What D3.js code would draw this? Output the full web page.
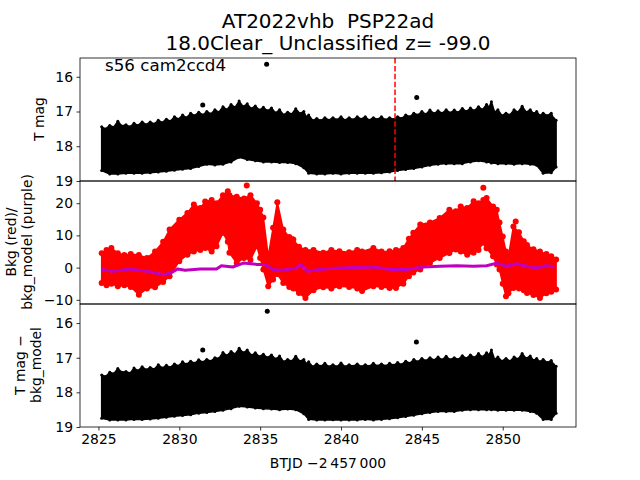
<!DOCTYPE html>
<html><head><meta charset="utf-8">
<script src="https://cdn.jsdelivr.net/npm/d3@7"></script>
<style>body{margin:0;background:#fff}svg{display:block;font-family:"DejaVu Sans",sans-serif}text{white-space:pre}</style>
</head><body><svg id="c" width="640" height="480"></svg>
<script>
// ---- data ----
// upper edge of the black T mag band (peaks and the dips between them)
const edgeTimes = [2825.2,2825.45,2825.7,2825.95,2826.2,2826.45,2826.7,2826.95,2827.2,2827.45,2827.7,2827.95,2828.2,2828.45,2828.7,2828.95,2829.2,2829.45,2829.7,2829.95,2830.2,2830.45,2830.7,2830.95,2831.2,2831.45,2831.7,2831.95,2832.2,2832.45,2832.7,2832.95,2833.2,2833.45,2833.7,2833.95,2834.2,2834.45,2834.7,2834.95,2835.2,2835.45,2835.7,2835.95,2836.2,2836.45,2836.7,2836.95,2837.2,2837.45,2837.7,2837.85,2838.0,2838.25,2838.5,2838.75,2839.0,2839.25,2839.5,2839.75,2840.0,2840.25,2840.5,2840.75,2841.0,2841.25,2841.5,2841.75,2842.0,2842.25,2842.5,2842.75,2843.0,2843.25,2843.5,2843.75,2844.0,2844.25,2844.5,2844.75,2845.0,2845.25,2845.5,2845.75,2846.0,2846.25,2846.5,2846.75,2847.0,2847.25,2847.5,2847.75,2848.0,2848.25,2848.5,2848.75,2849.0,2849.15,2849.3,2849.5,2849.7,2849.95,2850.2,2850.45,2850.7,2850.95,2851.2,2851.45,2851.7,2851.9,2852.1,2852.3,2852.5,2852.75,2853.0,2853.15,2853.3];
const tmagTop = [17.44,17.50,17.40,17.45,17.28,17.42,17.38,17.44,17.34,17.40,17.30,17.38,17.30,17.36,17.25,17.32,17.22,17.28,17.15,17.22,17.10,17.18,17.05,17.12,17.02,17.10,17.00,17.07,16.95,17.02,16.86,16.95,16.80,16.88,16.70,16.86,16.78,16.92,16.84,16.96,16.88,16.98,16.90,17.04,16.95,17.10,17.02,17.08,16.92,17.06,17.00,17.16,17.10,17.26,17.20,17.26,17.18,17.25,17.18,17.24,17.15,17.25,17.18,17.24,17.15,17.22,17.15,17.25,17.18,17.23,17.15,17.24,17.18,17.23,17.15,17.20,17.10,17.15,17.05,17.10,17.00,17.08,16.96,17.06,16.98,17.05,16.95,17.04,16.96,17.03,16.91,17.00,16.90,16.98,16.86,16.95,16.80,16.88,16.72,17.02,16.95,17.12,17.05,17.10,16.95,17.02,16.85,17.02,16.95,17.06,17.00,17.12,17.05,17.12,17.05,17.20,17.25];
const diffTop = [17.50,17.54,17.42,17.46,17.31,17.42,17.40,17.45,17.30,17.38,17.26,17.35,17.28,17.33,17.20,17.30,17.22,17.28,17.18,17.24,17.12,17.19,17.10,17.16,17.06,17.13,17.05,17.10,17.00,17.02,16.85,16.94,16.82,16.90,16.73,16.86,16.78,16.93,16.86,16.97,16.90,17.00,16.92,17.04,16.95,17.12,17.05,17.10,16.96,17.10,17.05,17.18,17.12,17.26,17.18,17.25,17.16,17.26,17.20,17.26,17.15,17.26,17.20,17.25,17.18,17.26,17.20,17.25,17.16,17.24,17.18,17.24,17.16,17.22,17.14,17.20,17.10,17.16,17.05,17.12,17.02,17.09,17.00,17.07,16.98,17.06,16.96,17.06,17.00,17.05,16.94,17.02,16.92,17.00,16.88,16.98,16.86,16.92,16.78,17.05,16.98,17.10,17.02,17.10,16.98,17.04,16.88,17.02,16.95,17.08,17.02,17.12,17.05,17.14,17.08,17.20,17.25];
// lower edge of the black bands
const lowTimes = [2825.2,2825.7,2826.2,2826.7,2827.2,2827.7,2828.2,2828.7,2829.2,2829.7,2830.2,2830.7,2831.2,2831.7,2832.2,2832.7,2833.2,2833.7,2834.2,2834.7,2835.2,2835.7,2836.2,2836.7,2837.2,2837.7,2838.0,2838.5,2839.0,2839.5,2840.0,2840.5,2841.0,2841.5,2842.0,2842.5,2843.0,2843.5,2844.0,2844.5,2845.0,2845.5,2846.0,2846.5,2847.0,2847.5,2848.0,2848.5,2849.0,2849.3,2849.7,2850.2,2850.7,2851.2,2851.7,2852.1,2852.5,2853.0,2853.3];
const tmagBottom = [18.70,18.80,18.80,18.78,18.78,18.78,18.76,18.74,18.72,18.69,18.66,18.64,18.58,18.52,18.54,18.52,18.45,18.32,18.38,18.42,18.45,18.45,18.47,18.47,18.50,18.62,18.78,18.80,18.80,18.78,18.80,18.78,18.78,18.78,18.78,18.76,18.74,18.70,18.67,18.64,18.60,18.55,18.52,18.50,18.50,18.50,18.45,18.42,18.45,18.48,18.50,18.50,18.52,18.50,18.52,18.55,18.78,18.76,18.60];
const diffBottom = [18.75,18.80,18.80,18.80,18.78,18.78,18.77,18.75,18.72,18.69,18.67,18.65,18.60,18.58,18.55,18.52,18.47,18.40,18.42,18.45,18.47,18.48,18.50,18.48,18.50,18.62,18.78,18.80,18.80,18.79,18.80,18.80,18.80,18.78,18.80,18.78,18.76,18.73,18.70,18.66,18.62,18.58,18.55,18.55,18.55,18.52,18.50,18.50,18.50,18.50,18.52,18.52,18.52,18.52,18.55,18.60,18.78,18.78,18.60];
const tmagOutT = [2831.45, 2835.4, 2844.68];
const tmagOutV = [16.81, 15.64, 16.60];
const diffOutT = [2831.45, 2835.44, 2844.66];
const diffOutV = [16.78, 15.66, 16.55];

const bkgTimes = [2825.2,2825.5,2825.8,2826.2,2826.6,2827.0,2827.5,2828.0,2828.5,2829.0,2829.4,2830.0,2830.5,2830.9,2831.3,2831.6,2832.0,2832.3,2832.7,2833.0,2833.1,2833.55,2834.0,2834.4,2834.8,2835.0,2835.2,2835.5,2835.8,2836.06,2836.43,2836.8,2837.05,2837.4,2837.8,2838.3,2838.9,2839.4,2839.9,2840.5,2841.0,2841.3,2842.0,2842.5,2843.0,2843.4,2843.85,2844.2,2844.47,2844.9,2845.5,2846.1,2846.7,2847.1,2847.4,2847.8,2848.2,2848.5,2848.8,2849.0,2849.4,2849.63,2849.8,2850.0,2850.2,2850.35,2850.66,2851.0,2851.3,2851.5,2851.9,2852.3,2852.7,2853.0,2853.3];
const bkgTop = [4.5,5.5,6.1,4.5,3.9,4.2,3.9,3.0,5.0,8.0,11.8,14.9,17.0,19.6,18.5,20.5,21.0,20.0,22.5,23.7,22.5,22.0,21.5,22.5,20.0,18.0,15.6,3.5,12.4,20.3,11.8,9.5,8.7,6.5,5.5,5.5,4.6,5.5,5.1,4.8,5.5,5.0,6.1,5.0,5.1,5.5,6.1,9.0,10.8,13.4,14.0,15.4,18.0,17.5,19.0,18.5,20.6,20.0,21.0,21.6,19.0,18.0,14.0,9.7,5.0,3.5,12.8,11.0,8.2,7.0,5.7,5.0,4.2,3.5,2.5];
const bkgBottom = [-4.8,-5.5,-5.0,-5.8,-5.5,-6.0,-8.4,-6.5,-6.1,-4.5,-2.7,2.0,4.0,5.0,5.5,6.1,5.0,6.6,10.8,8.0,4.6,1.4,3.0,2.4,6.6,3.0,-0.6,-5.8,-3.7,-2.0,-4.8,-6.0,-6.5,-7.9,-9.4,-7.0,-6.1,-6.5,-5.8,-6.0,-6.5,-7.3,-5.8,-6.0,-6.3,-6.3,-5.0,-2.7,-1.5,-0.6,1.4,3.0,4.5,5.6,5.0,4.0,4.6,5.5,7.7,6.0,3.5,1.0,-0.6,-5.0,-8.9,-8.0,-6.3,-6.5,-7.0,-7.9,-8.5,-9.4,-8.0,-7.5,-6.8];
const bkgOutT = [2834.17, 2848.8, 2850.8, 2836.95];
const bkgOutV = [25.5, 24.8, 14.3, 8.9];

const modelTimes = [2825.2,2825.9,2826.95,2828.0,2829.0,2829.5,2829.9,2830.35,2831.3,2832.3,2832.6,2833.3,2833.96,2834.8,2835.3,2835.8,2836.4,2837.26,2837.5,2837.9,2838.9,2839.94,2842.0,2843.03,2844.06,2845.09,2846.12,2847.16,2848.18,2849.0,2849.63,2850.25,2850.87,2851.5,2852.1,2852.7,2853.2];
const modelValues = [-0.6,-1.1,-0.4,-1.1,-2.2,-1.6,-0.4,-0.8,-0.4,-0.4,0.6,0.2,1.4,1.0,1.0,-0.6,-0.8,-0.1,1.0,-1.1,-0.4,-0.1,0.2,-0.6,-0.6,0.2,0.4,0.6,0.4,0.6,1.4,0.4,1.2,0.4,-0.1,0.6,0.2];

const markerTime = 2843.34;
const xTicks = [2825, 2830, 2835, 2840, 2845, 2850];
const magTicks = [16, 17, 18, 19];
const bkgTicks = [-10, 0, 10, 20];
const titleLines = ["AT2022vhb  PSP22ad", "18.0Clear_ Unclassified z= -99.0"];
const sectorLabel = "s56 cam2ccd4";

// ---- drawing ----
const svg = d3.select("#c");
const L = 80, R = 576;
const panels = [{top:58, bottom:181}, {top:181, bottom:304}, {top:304, bottom:427}];
const x = d3.scaleLinear().domain([2823.86, 2854.53]).range([L, R]);
const y1 = d3.scaleLinear().domain([15.46, 19.0]).range([panels[0].top, panels[0].bottom]);
const y2 = d3.scaleLinear().domain([-11.3, 26.9]).range([panels[1].bottom, panels[1].top]);
const y3 = d3.scaleLinear().domain([15.45, 19.0]).range([panels[2].top, panels[2].bottom]);
const FS = "13.9px";

const defs = svg.append("defs");
panels.forEach((p, i) => {
  defs.append("clipPath").attr("id", "clip" + i).append("rect")
    .attr("x", L).attr("y", p.top).attr("width", R - L).attr("height", p.bottom - p.top);
});

function drawBand(panelIdx, tTop, vTop, tBot, vBot, ys, color, r) {
  const g = svg.append("g").attr("clip-path", `url(#clip${panelIdx})`);
  const pts = tTop.map((t, i) => [x(t), ys(vTop[i])])
    .concat(tBot.map((t, i) => [x(t), ys(vBot[i])]).reverse());
  g.append("path").attr("d", d3.line()(pts) + "Z")
    .attr("fill", color).attr("stroke", color).attr("stroke-width", 1.5).attr("stroke-linejoin", "round");
  g.selectAll(null).data(pts).enter().append("circle")
    .attr("cx", d => d[0]).attr("cy", d => d[1]).attr("r", r).attr("fill", color);
  return g;
}
function drawPoints(g, ts, vs, ys, color, r) {
  g.selectAll(null).data(d3.range(ts.length)).enter().append("circle")
    .attr("cx", i => x(ts[i])).attr("cy", i => ys(vs[i])).attr("r", r).attr("fill", color);
}

// panel 1
const g1 = drawBand(0, edgeTimes, tmagTop, lowTimes, tmagBottom, y1, "#000", 1.5);
drawPoints(g1, tmagOutT, tmagOutV, y1, "#000", 2.5);
g1.append("line").attr("x1", x(markerTime)).attr("x2", x(markerTime))
  .attr("y1", panels[0].top).attr("y2", panels[0].bottom)
  .attr("stroke", "#ff0000").attr("stroke-width", 1.5).attr("stroke-dasharray", "5.5,2.4");

// panel 2
const g2 = drawBand(1, bkgTimes, bkgTop, bkgTimes, bkgBottom, y2, "#ff0000", 3);
drawPoints(g2, bkgOutT, bkgOutV, y2, "#ff0000", 3);
g2.append("path").datum(d3.range(modelTimes.length))
  .attr("d", d3.line().x(i => x(modelTimes[i])).y(i => y2(modelValues[i])))
  .attr("fill", "none").attr("stroke", "#bf00bf").attr("stroke-width", 3).attr("stroke-linejoin", "round");

// panel 3
const g3 = drawBand(2, edgeTimes, diffTop, lowTimes, diffBottom, y3, "#000", 1.5);
drawPoints(g3, diffOutT, diffOutV, y3, "#000", 2.5);

// axes
function yAxis(ys, ticks) {
  const a = svg.append("g").attr("transform", `translate(${L},0)`)
    .call(d3.axisLeft(ys).tickValues(ticks).tickFormat(d => d < 0 ? "\u2212" + Math.abs(d) : d).tickSize(3.5).tickPadding(3.5));
  a.select(".domain").remove();
  a.selectAll("text").attr("font-size", FS).attr("font-family", "DejaVu Sans").attr("fill", "#000");
  a.selectAll("line").attr("stroke", "#000").attr("stroke-width", 0.8);
}
yAxis(y1, magTicks);
yAxis(y2, bkgTicks);
yAxis(y3, magTicks);

const xa = svg.append("g").attr("transform", `translate(0,${panels[2].bottom})`)
  .call(d3.axisBottom(x).tickValues(xTicks).tickFormat(d3.format("d")).tickSize(3.5).tickPadding(3.5));
xa.select(".domain").remove();
xa.selectAll("text").attr("font-size", FS).attr("font-family", "DejaVu Sans").attr("fill", "#000");
xa.selectAll("line").attr("stroke", "#000").attr("stroke-width", 0.8);

panels.forEach(p => {
  svg.append("rect").attr("x", L).attr("y", p.top).attr("width", R - L).attr("height", p.bottom - p.top)
    .attr("fill", "none").attr("stroke", "#000").attr("stroke-width", 0.8);
});

// texts
svg.append("text").attr("x", 328).attr("y", 28).attr("text-anchor", "middle").attr("font-size", "20px").text(titleLines[0]);
svg.append("text").attr("x", 328).attr("y", 50).attr("text-anchor", "middle").attr("font-size", "20px").text(titleLines[1]);
svg.append("text").attr("x", 105).attr("y", 71).attr("font-size", "16.7px").text(sectorLabel);
svg.append("text").attr("x", 328).attr("y", 468).attr("text-anchor", "middle").attr("font-size", FS).text("BTJD \u22122\u2009457\u2009000");

function yLabel(lines, cx, cy) {
  const t = svg.append("text").attr("transform", `translate(${cx},${cy}) rotate(-90)`).attr("text-anchor", "middle").attr("font-size", FS);
  lines.forEach((s, i) => t.append("tspan").attr("x", 0).attr("dy", i === 0 ? (-(lines.length - 1) * 8.2) + "px" : "16.4px").text(s));
}
yLabel(["T mag"], 44, 119);
yLabel(["Bkg (red)/", "bkg_model (purple)"], 24, 242);
yLabel(["T mag \u2212", "bkg_model"], 33, 365);
</script></body></html>
